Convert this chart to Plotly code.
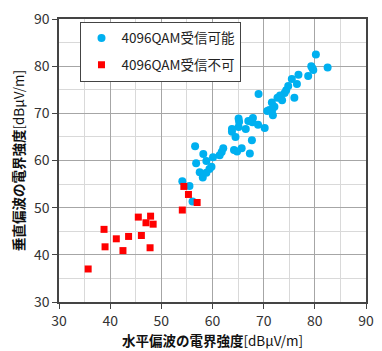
import plotly.graph_objects as go

# 4096QAM reception possible (blue circles)
ok_x = [54.1, 55.5, 56.1, 57.5, 58.1, 58.8, 59.4, 59.8, 56.6, 58.2, 56.8, 58.8, 60.1,
        61.4, 61.8, 62.1, 64.2, 64.8, 65.7, 67.3, 67.7, 63.8, 64.5, 65.1, 65.1, 66.5,
        67.0, 67.9, 67.8, 68.9, 70.2, 69.0, 70.7, 71.1, 71.8, 72.1, 71.6, 72.7, 73.2,
        73.6, 74.1, 74.4, 74.8, 76.0, 76.5, 75.5, 76.8, 78.7, 79.3, 79.5, 79.7, 80.2,
        82.5, 65.2, 63.8, 71.7]
ok_y = [55.6, 54.6, 51.3, 57.5, 56.4, 57.4, 58.2, 58.7, 63.0, 61.4, 59.4, 59.9, 60.7,
        61.1, 61.8, 62.6, 62.2, 61.9, 62.6, 61.5, 64.3, 66.1, 65.0, 67.1, 68.9, 66.7,
        68.4, 69.0, 68.1, 67.6, 66.9, 74.1, 70.5, 70.7, 69.6, 71.4, 72.3, 73.3, 73.8,
        72.8, 74.3, 74.9, 75.8, 73.3, 76.2, 77.3, 78.2, 77.9, 80.0, 79.6, 79.2, 82.5,
        79.7, 68.2, 66.7, 70.8]

# 4096QAM reception not possible (red squares)
ng_x = [35.7, 38.8, 39.0, 41.2, 42.5, 43.6, 45.5, 46.1, 47.0, 47.9, 48.4, 47.8,
        54.1, 54.4, 55.3, 57.0]
ng_y = [37.0, 45.4, 41.7, 43.4, 40.9, 43.9, 48.0, 44.1, 46.8, 48.2, 46.5, 41.5,
        49.5, 54.5, 52.8, 51.1]

font = "Noto Sans CJK JP"

fig = go.Figure()
fig.add_trace(go.Scatter(
    x=ok_x, y=ok_y, mode="markers", name="4096QAM受信可能", legendgroup="a",
    marker=dict(symbol="circle", size=8, color="#00B0F0")))
fig.add_trace(go.Scatter(
    x=ng_x, y=ng_y, mode="markers", name="4096QAM受信不可", legendgroup="b",
    marker=dict(symbol="square", size=7, color="#FF0000")))

axis_common = dict(
    showline=True, linecolor="#444444", linewidth=1.5, mirror=True,
    showgrid=True, gridcolor="#A6A6A6", gridwidth=1,
    ticks="outside", ticklen=5, tickcolor="#444444",
    tickfont=dict(family=font, size=14, color="#333333"),
    zeroline=False,
    minor=dict(dtick=5, showgrid=True, gridcolor="#D9D9D9", gridwidth=1),
)

fig.update_layout(
    width=382, height=351,
    margin=dict(l=59, r=8, t=15, b=44),
    paper_bgcolor="white", plot_bgcolor="white",
    font=dict(family=font, color="#222222"),
    showlegend=True,
    legend=dict(
        x=0.07, y=0.99, xanchor="left", yanchor="top",
        bgcolor="white", bordercolor="#444444", borderwidth=1,
        font=dict(family=font, size=13.5, color="#222222"),
        tracegroupgap=6, traceorder="grouped", itemwidth=30,
    ),
    xaxis=dict(range=[30, 90], dtick=10,
               title=dict(text="<b>水平偏波の電界強度</b>[dBμV/m]", standoff=4,
                          font=dict(family=font, size=13.5, color="#111111")),
               **axis_common),
    yaxis=dict(range=[30, 90], dtick=10,
               title=dict(text="<b>垂直偏波の電界強度</b>[dBμV/m]", standoff=6,
                          font=dict(family=font, size=13.5, color="#111111")),
               **axis_common),
)

fig.write_html("out.html")
